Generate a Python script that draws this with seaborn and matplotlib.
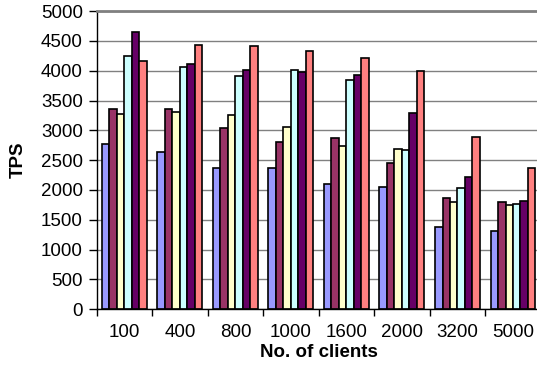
import matplotlib
matplotlib.use("Agg")
import matplotlib.pyplot as plt
import seaborn as sns
import pandas as pd
import numpy as np

# Throughput (TPS) per client count, six configurations
clients = ["100", "400", "800", "1000", "1600", "2000", "3200", "5000"]
series_names = ["A", "B", "C", "D", "E", "F"]
tps_a = [2775, 2640, 2365, 2365, 2100, 2045, 1385, 1305]
tps_b = [3365, 3365, 3040, 2800, 2870, 2460, 1870, 1790]
tps_c = [3280, 3300, 3250, 3050, 2745, 2685, 1800, 1740]
tps_d = [4250, 4070, 3915, 4010, 3850, 2675, 2035, 1765]
tps_e = [4655, 4110, 4020, 3975, 3935, 3290, 2210, 1810]
tps_f = [4160, 4440, 4415, 4335, 4215, 3990, 2885, 2365]
palette = ["#9999FF", "#993366", "#FFFFCC", "#CCFFFF", "#660066", "#FF8080"]

rows = []
for name, vals in zip(series_names, [tps_a, tps_b, tps_c, tps_d, tps_e, tps_f]):
    for c, v in zip(clients, vals):
        rows.append({"clients": c, "series": name, "tps": v})
df = pd.DataFrame(rows)

sns.set_style("white")
plt.rcParams["font.family"] = ["Liberation Sans", "DejaVu Sans"]
plt.rcParams["text.color"] = "black"
plt.rcParams["axes.labelcolor"] = "black"
plt.rcParams["xtick.color"] = "black"
plt.rcParams["ytick.color"] = "black"

fig = plt.figure(figsize=(5.37, 3.72), dpi=100)
ax = fig.add_axes([0.180, 0.169, 0.827, 0.801])

sns.barplot(data=df, x="clients", y="tps", hue="series", order=clients,
            hue_order=series_names, palette=palette, width=0.81,
            edgecolor="black", linewidth=1.2, saturation=1, legend=False, ax=ax)

ax.set_ylim(0, 5000)
ax.set_xlim(-0.5, len(clients) - 0.5)
ax.set_yticks(np.arange(0, 5001, 500))
ax.yaxis.grid(True, color="#808080", linewidth=1.0)
ax.set_axisbelow(True)

ax.spines["right"].set_visible(False)
ax.spines["top"].set_color("#808080")
ax.spines["top"].set_linewidth(2.0)
ax.spines["left"].set_color("black")
ax.spines["bottom"].set_color("black")
ax.spines["left"].set_linewidth(1.0)
ax.spines["bottom"].set_linewidth(1.0)

ax.tick_params(axis="y", direction="out", length=6, width=1, color="black",
               labelsize=13.5, pad=4, left=True, labelcolor="black")
ax.tick_params(axis="x", which="major", length=0, labelsize=13.5, pad=11,
               labelcolor="black")
ax.set_xticks(np.arange(-0.5, len(clients), 1.0), minor=True)
ax.tick_params(axis="x", which="minor", direction="out", length=5, width=1,
               color="black", bottom=True)

ax.set_xlabel("No. of clients", fontsize=13.5, fontweight="bold", labelpad=2,
              color="black")
ax.set_ylabel("TPS", fontsize=13.5, fontweight="bold", labelpad=10,
              color="black")

fig.savefig("out.png", dpi=100)
